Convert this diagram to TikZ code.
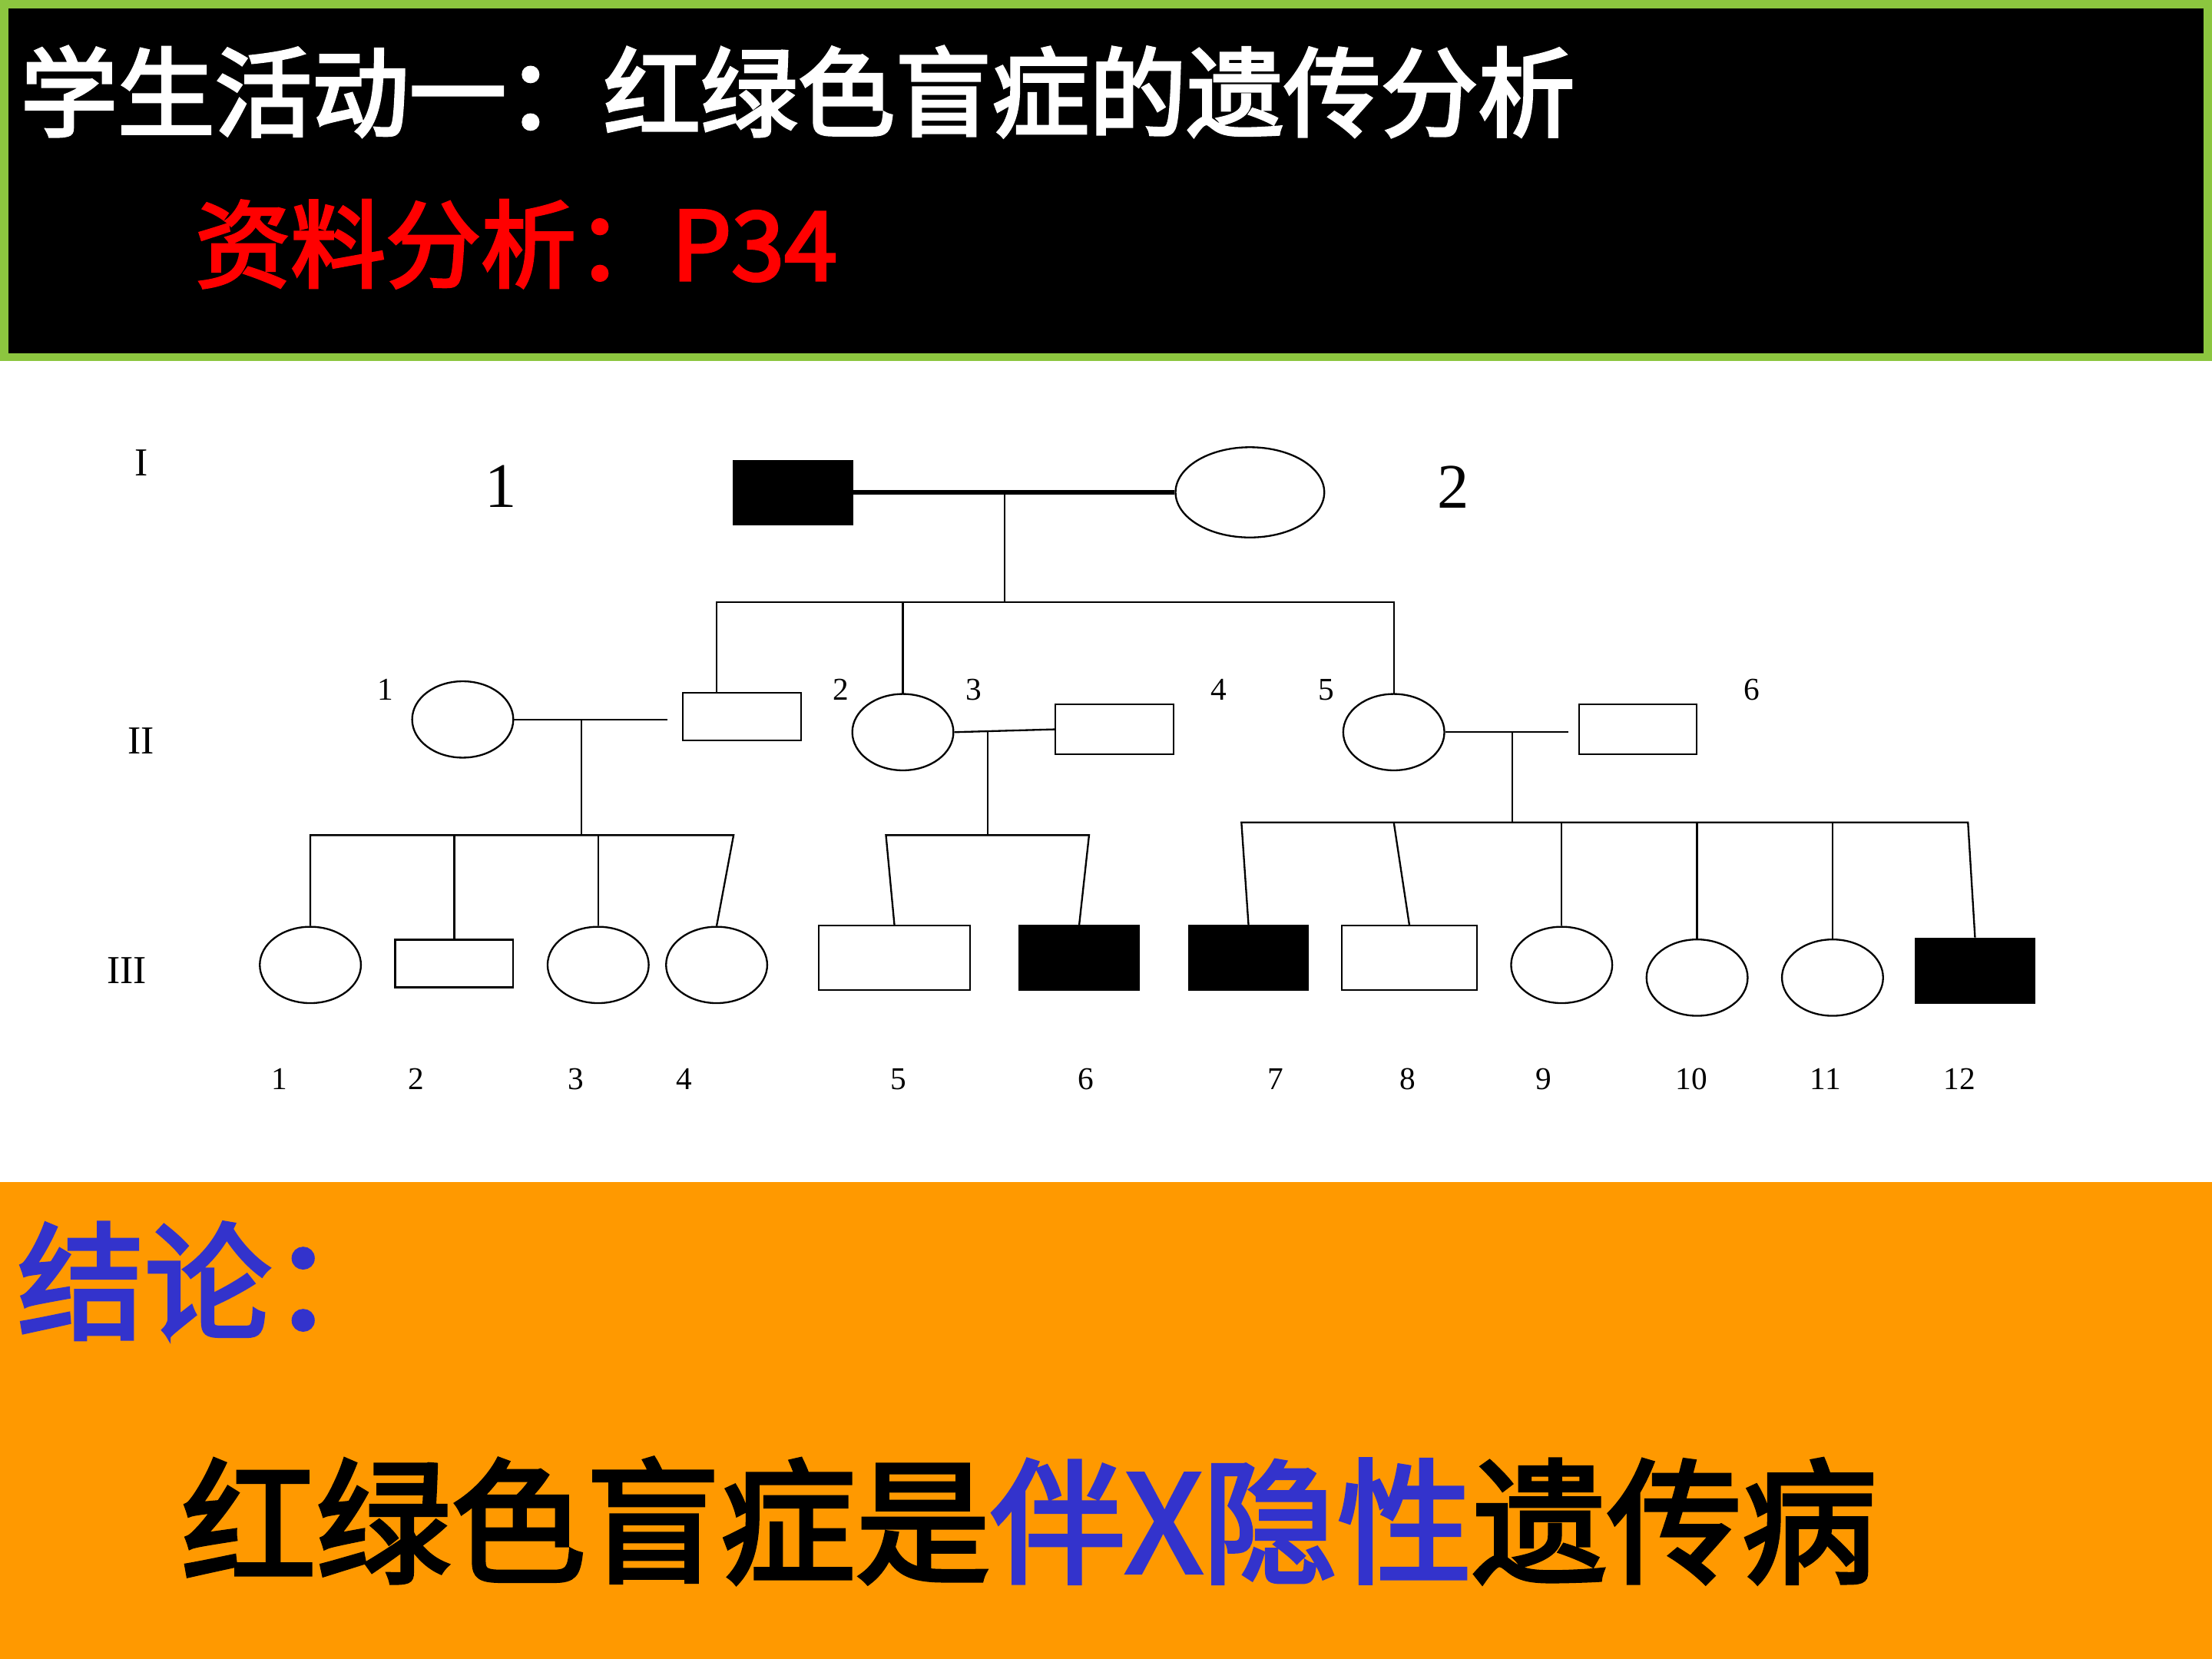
\documentclass[tikz,border=0pt]{standalone}
\usetikzlibrary{shapes.geometric}
\usepackage{fontspec}
\newfontfamily\cjk{Noto Sans CJK SC}[FakeBold=3]
\newfontfamily\ser{Liberation Serif}
\definecolor{lgreen}{HTML}{8CC63F}
\definecolor{orng}{HTML}{FF9900}
\definecolor{blu}{HTML}{3333CC}
\newcommand{\fsz}[1]{\fontsize{#1}{#1}\selectfont}
\begin{document}
\begin{tikzpicture}[x=0.05cm,y=-0.05cm,
  ln/.style={line width=1.8pt},
  sq/.style={draw,line width=1.8pt,fill=white},
  aff/.style={draw,line width=1.8pt,fill=black},
  num/.style={font=\ser\fsz{32}},
  gen/.style={font=\ser\fsz{40}}]
\useasboundingbox (0,0) rectangle (1568,1176);
\fill[white] (0,0) rectangle (1568,1176);
\fill[black] (0,0) rectangle (1568,255);
\draw[lgreen,line width=8pt] (3,3) rectangle (1565,253);
\fill[orng] (0,838) rectangle (1568,1176);
\node[anchor=west,text=white,font=\cjk\fsz{98}] (t1) at (12,65) {学生活动一：红绿色盲症的遗传分析};
\node[anchor=west,text=red,font=\cjk\fsz{96}] (t2) at (136,173) {资料分析：P34};
\node[anchor=west,text=blu,font=\cjk\fsz{128}] (cc1) at (10,908) {结论：};
\node[anchor=west,font=\cjk\fsz{136}] (cc2) at (126,1078) {红绿色盲症是\textcolor{blu}{伴X隐性}遗传病};
% Gen I
\node[gen] (gI) at (100,328) {I};
\node[font=\ser\fsz{64}] (n1) at (355,345) {1};
\node[font=\ser\fsz{64}] (n2) at (1030,345) {2};
\node[aff,minimum width=120pt,minimum height=64pt,inner sep=0] (I1) at (562,349) {};
\node[draw,ellipse,line width=1.8pt,minimum width=150pt,minimum height=91pt,inner sep=0] (I2) at (886,349) {};
\draw[line width=5pt] (I1.east) -- (I2.west);
\coordinate (m1) at (712,349);
\draw[ln] (m1) -- (712,427);
\draw[ln] (508,491) -- (508,427) -- (988,427) -- (988,492);
\draw[ln] (640,427) -- (640,492);
% Gen II
\node[gen] (gII) at (100,525) {II};
\node[draw,ellipse,line width=1.8pt,minimum width=102pt,minimum height=77pt,inner sep=0] (II1) at (328,510) {};
\node[sq,minimum width=119pt,minimum height=48pt,inner sep=0] (II2) at (526,508) {};
\node[draw,ellipse,line width=1.8pt,minimum width=102pt,minimum height=77pt,inner sep=0] (II3) at (640,519) {};
\node[sq,minimum width=119pt,minimum height=50pt,inner sep=0] (II4) at (790,517) {};
\node[draw,ellipse,line width=1.8pt,minimum width=102pt,minimum height=77pt,inner sep=0] (II5) at (988,519) {};
\node[sq,minimum width=119pt,minimum height=50pt,inner sep=0] (II6) at (1161,517) {};
\draw[ln] (II1.east) -- (473,510);
\draw[ln] (II3.east) -- (II4.west);
\draw[ln] (II5.east) -- (1112,519);
\foreach \t/\x in {1/273,2/596,3/690,4/864,5/940,6/1242} \node[num] at (\x,489) {\t};
\draw[ln] (412,510) -- (412,592);
\draw[ln] (700,519) -- (700,592);
\draw[ln] (1072,519) -- (1072,583);
% Gen III
\node[gen] (gIII) at (90,688) {III};
\tikzset{circ/.style={draw,ellipse,line width=1.8pt,minimum width=102pt,minimum height=77pt,inner sep=0,fill=white}}
\node[circ] (c1) at (220,684) {};
\node[sq,minimum width=119pt,minimum height=48pt,inner sep=0] (c2) at (322,683) {};
\node[circ] (c3) at (424,684) {};
\node[circ] (c4) at (508,684) {};
\node[sq,minimum width=153pt,minimum height=65pt,inner sep=0] (c5) at (634,679) {};
\node[aff,minimum width=120pt,minimum height=65pt,inner sep=0] (c6) at (765,679) {};
\node[aff,minimum width=120pt,minimum height=65pt,inner sep=0] (c7) at (885,679) {};
\node[sq,minimum width=136pt,minimum height=65pt,inner sep=0] (c8) at (999,679) {};
\node[circ] (c9) at (1107,684) {};
\node[circ] (c10) at (1203,693) {};
\node[circ] (c11) at (1299,693) {};
\node[aff,minimum width=120pt,minimum height=65pt,inner sep=0] (c12) at (1400,688) {};
\draw[ln] (c1.north) -- (220,592) -- (520,592) -- (c4.north);
\draw[ln] (c2.north) -- (322,592);
\draw[ln] (c3.north) -- (424,592);
\draw[ln] (c5.north) -- (628,592) -- (772,592) -- (c6.north);
\draw[ln] (c7.north) -- (880,583) -- (1395,583) -- (c12.north);
\draw[ln] (c8.north) -- (988,583);
\draw[ln] (c9.north) -- (1107,583);
\draw[ln] (c10.north) -- (1203,583);
\draw[ln] (c11.north) -- (1299,583);
\foreach \t/\x in {1/198,2/295,3/408,4/485,5/637,6/770,7/904,8/998,9/1094,10/1199,11/1294,12/1389} \node[num] at (\x,765) {\t};
\end{tikzpicture}
\end{document}
